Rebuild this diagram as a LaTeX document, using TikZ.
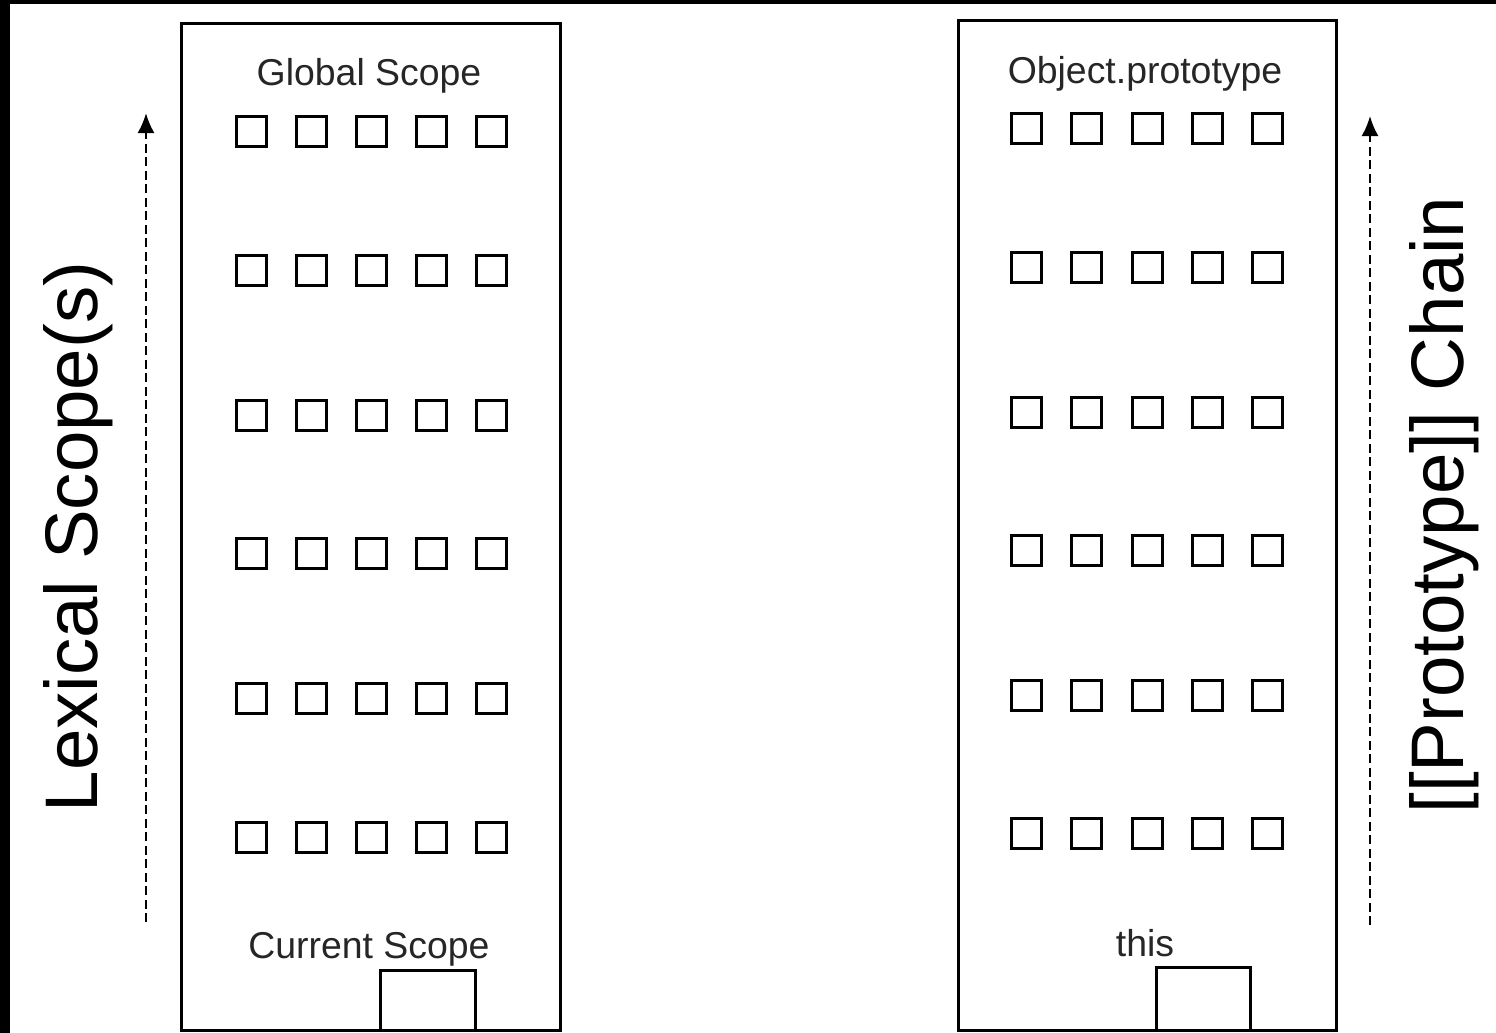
\documentclass[tikz,border=0pt]{standalone}
\usepackage{fontspec}
\setmainfont{Liberation Sans}
\usetikzlibrary{arrows.meta}
\begin{document}
\begin{tikzpicture}[x=1pt,y=-1pt,
  bigbox/.style={draw=black,line width=3pt,inner sep=0pt,fill=white},
  cell/.style={draw=black,line width=3pt,inner sep=0pt,minimum width=30pt,minimum height=30pt},
  small/.style={font=\fontsize{37.4}{40}\selectfont,inner sep=0pt,anchor=base,text=black!85},
  big/.style={font=\fontsize{74.5}{80}\selectfont,inner sep=0pt,anchor=base,rotate=90,text=black},
  dasharrow/.style={draw=black,line width=2.2pt,dash pattern=on 9pt off 4.5pt,-{Latex[length=20pt,width=17pt]}}]
% background / margins
\fill[black] (0,0) rectangle (1496,1033);
\fill[white] (10,4) rectangle (1496,1033);
\useasboundingbox (0,0) rectangle (1496,1033);
% left column
\node[bigbox,minimum width=379pt,minimum height=1006pt] (lbox) at (370.5,527) {};
\node[small] (ltitle) at (369,85.5) {Global Scope};
\node[small] (lbottom) at (369,958) {Current Scope};
\node[bigbox,minimum width=95pt,minimum height=60pt] (lcur) at (427.5,1000) {};
\foreach \r/\yy in {1/131,2/270,3/415,4/553,5/698,6/837}{
  \foreach \c/\xx in {1/251,2/311,3/371,4/431,5/491}{
    \node[cell] (l-\r-\c) at (\xx,\yy) {};
  }
}
% right column
\node[bigbox,minimum width=378pt,minimum height=1009pt] (rbox) at (1147,525.5) {};
\node[small] (rtitle) at (1145,83.5) {Object.prototype};
\node[small] (rbottom) at (1145,956) {this};
\node[bigbox,minimum width=94pt,minimum height=63pt] (rthis) at (1203,998.5) {};
\foreach \r/\yy in {1/128,2/267,3/412,4/550,5/695,6/833}{
  \foreach \c/\xx in {1/1026,2/1086,3/1147,4/1207,5/1267}{
    \node[cell] (r-\r-\c) at (\xx,\yy) {};
  }
}
% side labels
\node[big] (llabel) at (97,537) {Lexical Scope(s)};
\node[big] (rlabel) at (1463,505) {[[Prototype]] Chain};
% arrows
\coordinate (la1) at (146,922);
\coordinate (la2) at (146,113);
\coordinate (ra1) at (1370,925);
\coordinate (ra2) at (1370,116);
\draw[dasharrow] (la1) -- (la2);
\draw[dasharrow] (ra1) -- (ra2);
\end{tikzpicture}
\end{document}
